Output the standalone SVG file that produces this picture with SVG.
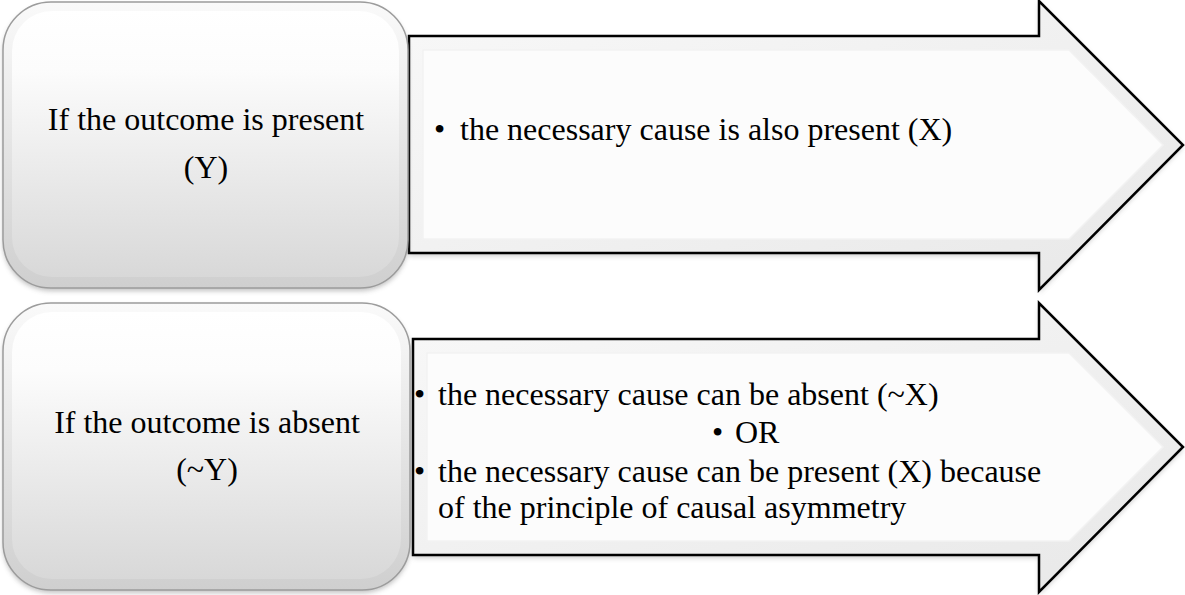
<svg xmlns="http://www.w3.org/2000/svg" width="1185" height="595" viewBox="0 0 1185 595">
<style>
.t{font-family:'Liberation Serif','Times New Roman',Times,'DejaVu Serif',serif;font-size:32px;fill:#000}
.c{text-anchor:middle}
.boxo{fill:url(#gOuter);stroke:#9c9c9c;stroke-width:1.5}
.boxi{fill:url(#gInner);stroke:none}
.arro{fill:url(#gArrOut);stroke:#000;stroke-width:2.5;stroke-linejoin:miter}
.arri{fill:#fcfcfc;stroke:#f2f2f2;stroke-width:1.5}
</style>
<defs>
<linearGradient id="gOuter" x1="0" y1="0" x2="0" y2="1">
<stop offset="0" stop-color="#fafafa"/>
<stop offset="1" stop-color="#cfcfcf"/>
</linearGradient>
<linearGradient id="gInner" x1="0" y1="0" x2="0" y2="1">
<stop offset="0" stop-color="#ffffff"/>
<stop offset="0.22" stop-color="#fcfcfc"/>
<stop offset="1" stop-color="#d8d8d8"/>
</linearGradient>
<linearGradient id="gArrOut" x1="0" y1="0" x2="1" y2="1">
<stop offset="0" stop-color="#f8f8f8"/>
<stop offset="1" stop-color="#e8e8e8"/>
</linearGradient>
<filter id="sh" x="-5%" y="-5%" width="110%" height="115%">
<feGaussianBlur stdDeviation="2.5"/>
</filter>
</defs>

<g id="arrow1">
<path d="M409,39 H1039 V3 L1183,147 L1039,293 V256 H409 Z" fill="#888" opacity="0.4" filter="url(#sh)"/>
<path class="arro" d="M409,36 H1039 V1 L1183,145 L1039,290 V253 H409 Z"/>
<path class="arri" d="M423,50 H1069 L1163,145 L1069,239 H423 Z"/>
<text class="t" x="434" y="140">•</text>
<text class="t" x="460" y="140">the necessary cause is also present (X)</text>
</g>

<g id="box1">
<rect x="3" y="5" width="405" height="286" rx="48" fill="#777" opacity="0.45" filter="url(#sh)"/>
<rect class="boxo" x="3" y="2" width="405" height="286" rx="48"/>
<rect class="boxi" x="12" y="11" width="387" height="266" rx="40"/>
<text class="t c" x="206" y="130">If the outcome is present</text>
<text class="t c" x="206" y="178">(Y)</text>
</g>

<g id="arrow2">
<path d="M413,342 H1039 V306 L1183,450 L1039,595 V558 H413 Z" fill="#888" opacity="0.4" filter="url(#sh)"/>
<path class="arro" d="M413,339 H1039 V303 L1183,447 L1039,592 V555 H413 Z"/>
<path class="arri" d="M427,353 H1069 L1163,447 L1069,541 H427 Z"/>
<text class="t" x="414" y="405">•</text>
<text class="t" x="438" y="405">the necessary cause can be absent (~X)</text>
<text class="t" x="712" y="443">•</text>
<text class="t" x="735" y="443">OR</text>
<text class="t" x="414" y="482">•</text>
<text class="t" x="438" y="482">the necessary cause can be present (X) because</text>
<text class="t" x="438" y="518">of the principle of causal asymmetry</text>
</g>

<g id="box2">
<rect x="3" y="306" width="407" height="287" rx="48" fill="#777" opacity="0.45" filter="url(#sh)"/>
<rect class="boxo" x="3" y="303" width="407" height="287" rx="48"/>
<rect class="boxi" x="12" y="312" width="389" height="267" rx="40"/>
<text class="t c" x="207" y="433">If the outcome is absent</text>
<text class="t c" x="207" y="480">(~Y)</text>
</g>

<g id="connectors"></g>
</svg>
